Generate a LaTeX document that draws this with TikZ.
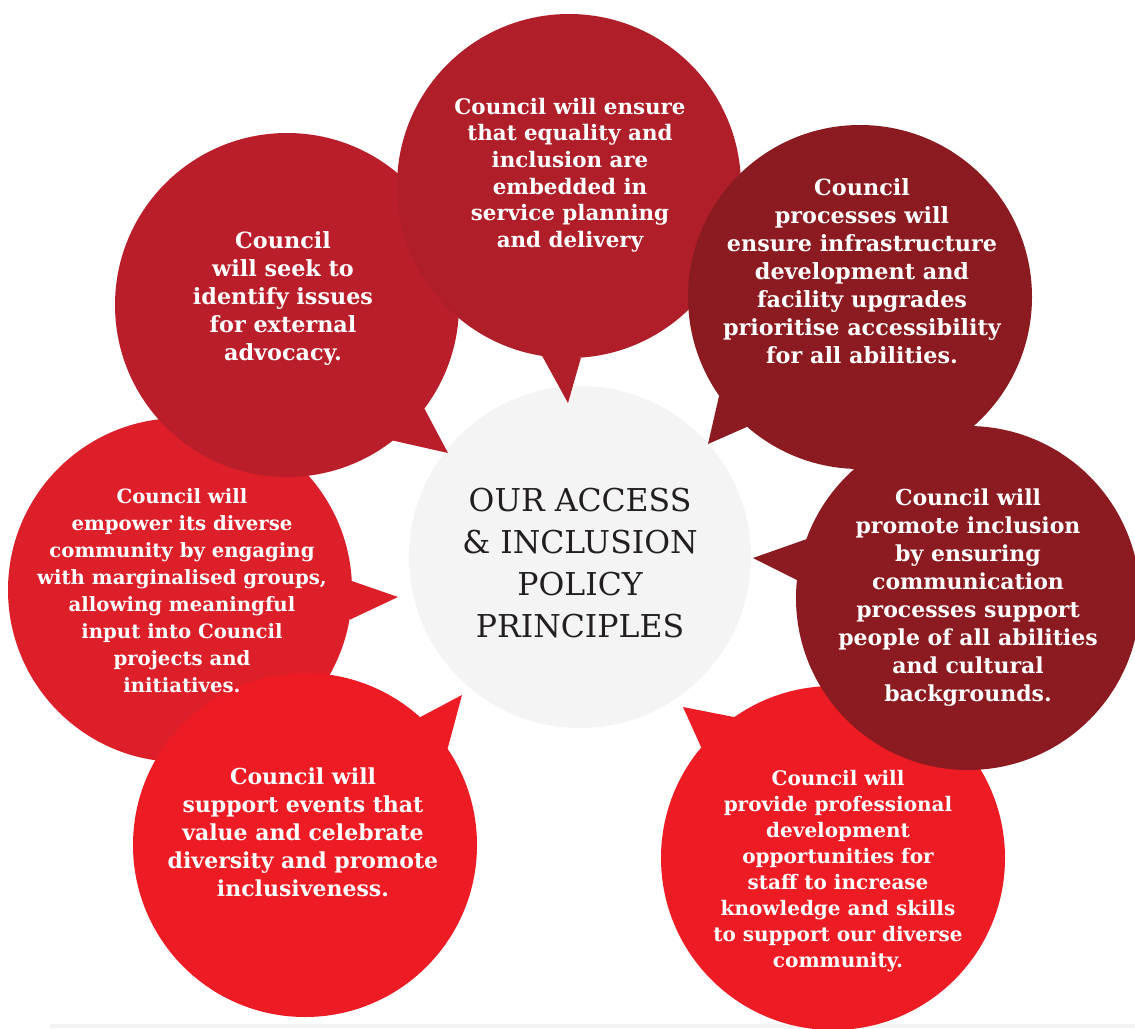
\documentclass[tikz,border=0pt]{standalone}
\usepackage{fontspec}
\setmainfont{DejaVu Serif}
\definecolor{cTop}{RGB}{176,31,41}
\definecolor{cUL}{RGB}{187,30,43}
\definecolor{cTR}{RGB}{139,27,32}
\definecolor{cR}{RGB}{139,27,32}
\definecolor{cBR}{RGB}{237,28,36}
\definecolor{cBL}{RGB}{237,28,36}
\definecolor{cL}{RGB}{220,31,41}
\definecolor{cC}{RGB}{244,244,244}
\definecolor{cInk}{RGB}{35,31,32}
\tikzset{
  bubble/.style={circle, minimum size=344pt, inner sep=0pt, outer sep=0pt, draw=none},
  txt/.style={text=white, align=center, inner sep=0pt},
  ctxt/.style={text=cInk, align=center, inner sep=0pt, font=\fontsize{31.5}{42}\selectfont},
}
\begin{document}
\begin{tikzpicture}[x=1pt,y=-1pt]
\useasboundingbox (0,0) rectangle (1135,1028);
\clip (0,0) rectangle (1135,1028);
\fill[white] (0,0) rectangle (1135,1028);
\fill[cC] (50,1024) rectangle (1135,1028);
% centre
\node[bubble, fill=cC, minimum size=342pt] (cc) at (580,557) {};
% left
\node[bubble, fill=cL] (c7) at (180,590) {};
\coordinate (p7) at (398,597);
\fill[cL] (c7.3) -- (p7) -- (c7.350) -- cycle;
% upper left
\node[bubble, fill=cUL] (c2) at (287,305) {};
\coordinate (p2) at (448,453);
\fill[cUL] (c2.323) -- (p2) -- (c2.308) -- cycle;
% top
\node[bubble, fill=cTop] (c1) at (569,186) {};
\coordinate (p1) at (568,403);
\fill[cTop] (c1.261) -- (p1) -- (c1.274) -- cycle;
% top right
\node[bubble, fill=cTR] (c3) at (860,297) {};
\coordinate (p3) at (708,444);
\fill[cTR] (c3.215) -- (p3) -- (c3.229) -- cycle;
% bottom right
\node[bubble, fill=cBR] (c5) at (833,858) {};
\coordinate (p5) at (683,707);
\fill[cBR] (c5.125) -- (p5) -- (c5.140) -- cycle;
% right
\node[bubble, fill=cR] (c4) at (968,598) {};
\coordinate (p4) at (753,558);
\fill[cR] (c4.160) -- (p4) -- (c4.174) -- cycle;
% bottom left
\node[bubble, fill=cBL] (c6) at (305,845) {};
\coordinate (p6) at (462,695);
\fill[cBL] (c6.48) -- (p6) -- (c6.34) -- cycle;
% texts
\node[ctxt] (tc) at (580,563) {OUR ACCESS\\ \& INCLUSION\\ POLICY\\ PRINCIPLES};
\node[txt, font=\bfseries\fontsize{21.4}{26.6}\selectfont] (t1) at (570,175) {Council will ensure\\ that equality and\\ inclusion are\\ embedded in\\ service planning\\ and delivery};
\node[txt, font=\bfseries\fontsize{22.3}{28}\selectfont] (t2) at (283,299) {Council\\ will seek to\\ identify issues\\ for external\\ advocacy.};
\node[txt, font=\bfseries\fontsize{22.3}{28}\selectfont] (t3) at (862,271) {Council\\ processes will\\ ensure infrastructure\\ development and\\ facility upgrades\\ prioritise accessibility\\ for all abilities.};
\node[txt, font=\bfseries\fontsize{22}{28}\selectfont] (t4) at (968,598) {Council will\\ promote inclusion\\ by ensuring\\ communication\\ processes support\\ people of all abilities\\ and cultural\\ backgrounds.};
\node[txt, font=\bfseries\fontsize{20}{26}\selectfont] (t5) at (838,871) {Council will\\ provide professional\\ development\\ opportunities for\\ staff to increase\\ knowledge and skills\\ to support our diverse\\ community.};
\node[txt, font=\bfseries\fontsize{22}{28}\selectfont] (t6) at (303,832) {Council will\\ support events that\\ value and celebrate\\ diversity and promote\\ inclusiveness.};
\node[txt, font=\bfseries\fontsize{19.7}{27}\selectfont] (t7) at (182,591) {Council will\\ empower its diverse\\ community by engaging\\ with marginalised groups,\\ allowing meaningful\\ input into Council\\ projects and\\ initiatives.};
\end{tikzpicture}
\end{document}
